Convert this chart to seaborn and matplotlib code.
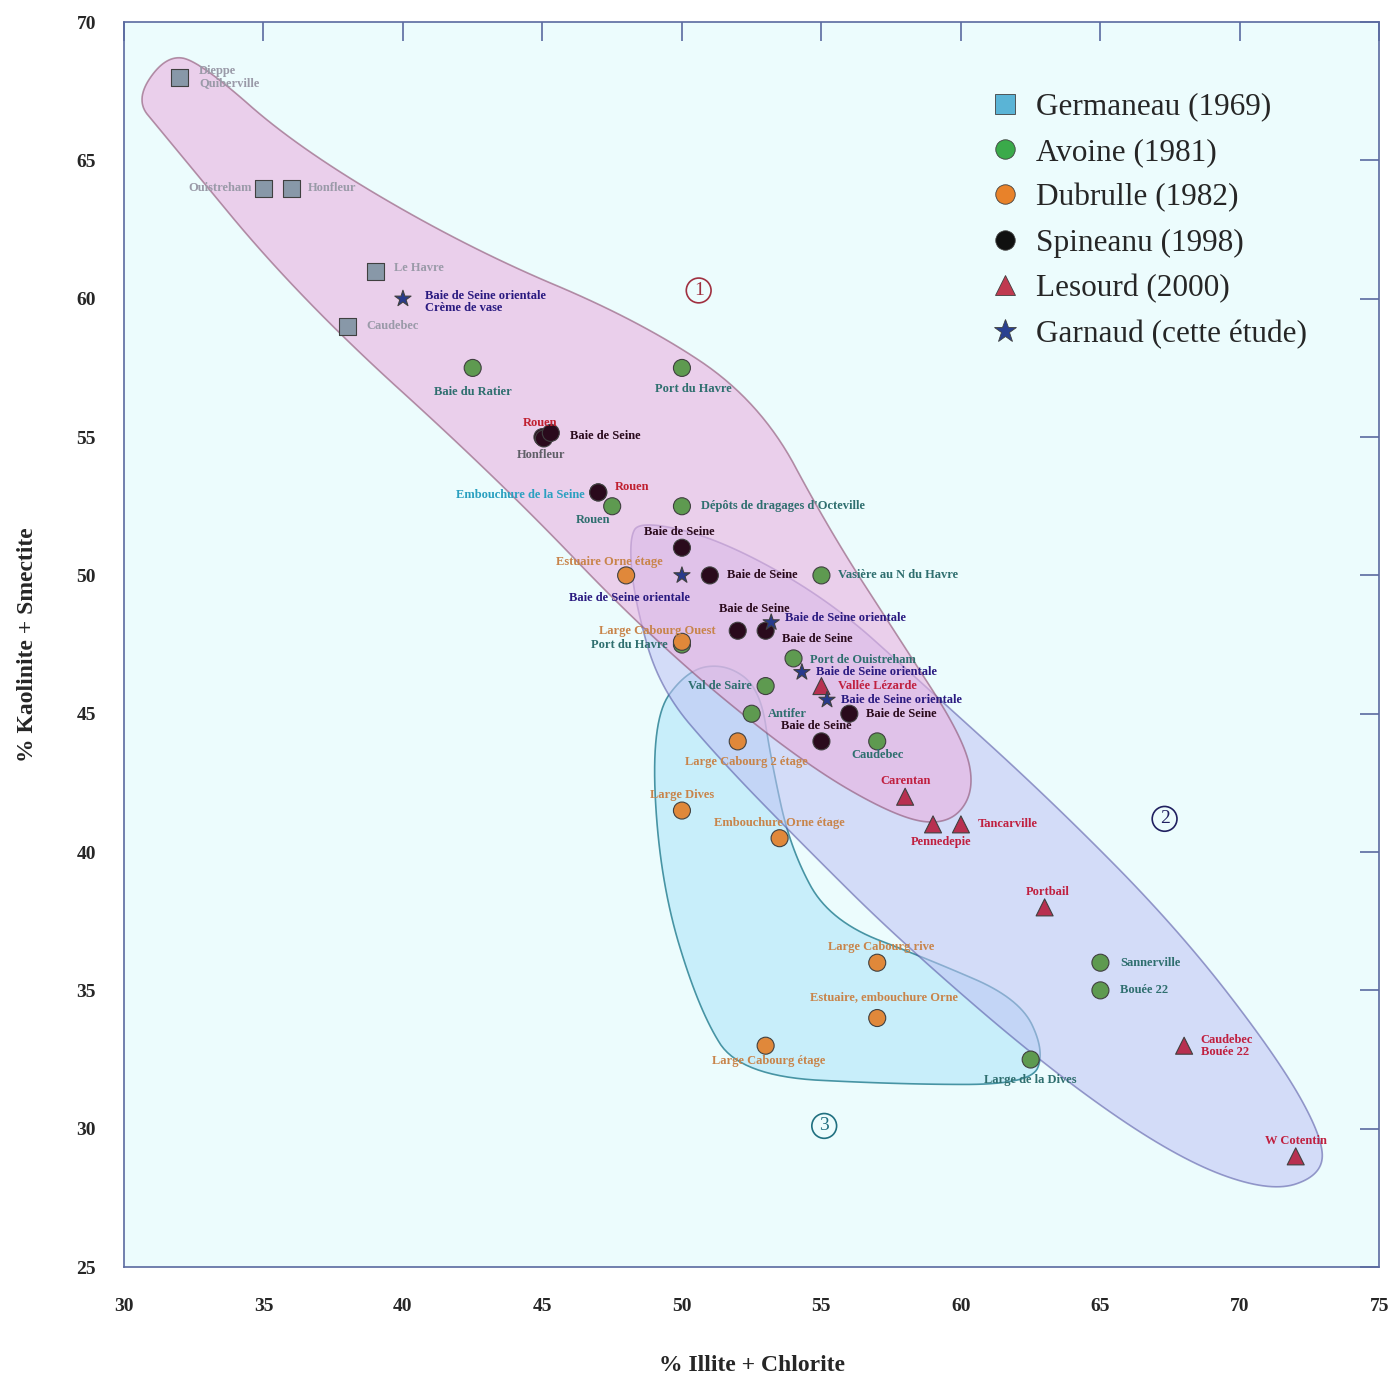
import numpy as np
import pandas as pd
import seaborn as sns
import matplotlib.pyplot as plt
from matplotlib.patches import Polygon
from matplotlib.lines import Line2D

# --- data -----------------------------------------------------------------
germ_x = [32, 35, 36, 39, 38]
germ_y = [68, 64, 64, 61, 59]
germ_lab = ['Dieppe\nQuiberville', 'Ouistreham', 'Honfleur', 'Le Havre', 'Caudebec']

avo_x = [42.5, 50, 47, 47.5, 50, 55, 50, 54, 53, 52.5, 57, 65, 65, 62.5]
avo_y = [57.5, 57.5, 53, 52.5, 52.5, 50, 47.5, 47, 46, 45, 44, 36, 35, 32.5]
avo_lab = ['Baie du Ratier', 'Port du Havre', 'Embouchure de la Seine', 'Rouen',
           "Dépôts de dragages d'Octeville", 'Vasière au N du Havre', 'Port du Havre',
           'Port de Ouistreham', 'Val de Saire', 'Antifer', 'Caudebec', 'Sannerville',
           'Bouée 22', 'Large de la Dives']

dub_x = [48, 50, 52, 50, 53.5, 57, 57, 53]
dub_y = [50, 47.6, 44, 41.5, 40.5, 36, 34, 33]
dub_lab = ['Estuaire Orne étage', 'Large Cabourg Ouest', 'Large Cabourg 2 étage', 'Large Dives',
           'Embouchure Orne étage', 'Large Cabourg rive', 'Estuaire, embouchure Orne',
           'Large Cabourg étage']

spi_x = [45, 45.05, 45.3, 47, 50, 51, 52, 53, 56, 55]
spi_y = [55, 54.95, 55.15, 53, 51, 50, 48, 48, 45, 44]
spi_lab = ['Rouen', 'Honfleur', 'Baie de Seine', 'Rouen', 'Baie de Seine', 'Baie de Seine',
           'Baie de Seine', 'Baie de Seine', 'Baie de Seine', 'Baie de Seine']

les_x = [55, 58, 59, 60, 63, 68, 72]
les_y = [46, 42, 41, 41, 38, 33, 29]
les_lab = ['Vallée Lézarde', 'Carentan', 'Pennedepie', 'Tancarville', 'Portbail',
           'Caudebec\nBouée 22', 'W Cotentin']

gar_x = [40, 50, 53.2, 54.3, 55.2]
gar_y = [60, 50, 48.3, 46.5, 45.5]
gar_lab = ['Baie de Seine orientale\nCrème de vase', 'Baie de Seine orientale',
           'Baie de Seine orientale', 'Baie de Seine orientale', 'Baie de Seine orientale']

sources = ['Germaneau (1969)', 'Avoine (1981)', 'Dubrulle (1982)',
           'Spineanu (1998)', 'Lesourd (2000)', 'Garnaud (cette étude)']

# envelope outlines (data units)
env1_x = [30.4, 31.5, 32.7, 36.3, 42.4, 48.5, 52.8, 55.3, 57.8, 60.1, 60.5, 59.6, 57.8, 54.2, 48.9, 43.5, 36.3, 31.3]
env1_y = [67.2, 68.8, 68.6, 65.4, 61.8, 59.2, 56.3, 51.6, 47.7, 44.1, 42.2, 41.0, 41.2, 43.3, 47.7, 53.4, 60.0, 66.1]
env2_x = [48.5, 51.4, 55.3, 58.5, 63.2, 67.8, 71.4, 73.0, 72.9, 71.1, 67.8, 63.2, 57.8, 54.2, 51.4, 49.2, 48.3, 48.1]
env2_y = [52.0, 51.3, 49.1, 46.2, 41.9, 37.2, 32.5, 29.6, 28.3, 27.7, 28.9, 32.1, 36.8, 40.4, 43.3, 45.9, 49.1, 51.3]
env3_x = [48.9, 49.2, 50.6, 52.1, 57.8, 62.5, 63.0, 62.1, 58.9, 55.3, 53.9, 53.2, 52.8, 51.6, 50.2]
env3_y = [44.8, 39.0, 34.3, 31.9, 31.6, 31.6, 32.8, 34.7, 36.1, 37.5, 40.1, 43.3, 45.9, 46.8, 46.6]

# --- styles ---------------------------------------------------------------
marker_map = dict(zip(sources, ['s', 'o', 'o', 'o', '^', '*']))
plot_pal = dict(zip(sources, ['#8898a8', '#5e9a50', '#e0883a', '#2a0a1c', '#b83050', '#283a8c']))
leg_pal = dict(zip(sources, ['#5ab4d6', '#3aaa4a', '#e8822a', '#101010', '#c03a50', '#2a4090']))
lab_col = dict(zip(sources, ['#9a9aa8', '#2f6f6f', '#c8844a', '#2a0a1c', '#c02040', '#2a1a80']))
col_override = {('Avoine (1981)', 2): '#2aa0c0', ('Spineanu (1998)', 0): '#c02030',
                ('Spineanu (1998)', 1): '#606068', ('Spineanu (1998)', 3): '#c02030'}

# label offsets in points (dx, dy, ha)
offs = {
    'Germaneau (1969)': [(14, 0, 'left'), (-8, 0, 'right'), (12, 0, 'left'), (14, 2, 'left'), (14, 0, 'left')],
    'Avoine (1981)': [(0, -17, 'center'), (8, -15, 'center'), (-10, -2, 'right'), (-14, -10, 'center'),
                      (14, 0, 'left'), (12, 0, 'left'), (-10, 0, 'right'), (12, -1, 'left'),
                      (-10, 0, 'right'), (12, 0, 'left'), (0, -10, 'center'), (14, 0, 'left'),
                      (14, 0, 'left'), (0, -15, 'center')],
    'Dubrulle (1982)': [(-12, 10, 'center'), (-18, 8, 'center'), (6, -15, 'center'), (0, 11, 'center'),
                        (0, 11, 'center'), (3, 11, 'center'), (5, 15, 'center'), (2, -11, 'center')],
    'Spineanu (1998)': [(-2, 10, 'center'), (-2, -12, 'center'), (14, -2, 'left'), (12, 4, 'left'),
                        (-2, 11, 'center'), (12, 0, 'left'), (12, 16, 'center'), (12, -6, 'left'),
                        (12, 0, 'left'), (-4, 11, 'center')],
    'Lesourd (2000)': [(12, 0, 'left'), (0, 11, 'center'), (6, -13, 'center'), (12, 0, 'left'),
                       (2, 11, 'center'), (12, 0, 'left'), (0, 11, 'center')],
    'Garnaud (cette étude)': [(16, -2, 'left'), (-38, -16, 'center'), (10, 3, 'left'), (10, 0, 'left'), (10, 0, 'left')],
}

frames = []
for src, xs, ys, labs in zip(sources,
                             [germ_x, avo_x, dub_x, spi_x, les_x, gar_x],
                             [germ_y, avo_y, dub_y, spi_y, les_y, gar_y],
                             [germ_lab, avo_lab, dub_lab, spi_lab, les_lab, gar_lab]):
    frames.append(pd.DataFrame({'illite': xs, 'kaolinite': ys, 'label': labs, 'source': src}))
df = pd.concat(frames, ignore_index=True)


def chaikin(xs, ys, n=4):
    pts = np.column_stack([xs, ys])
    for _ in range(n):
        nxt = np.roll(pts, -1, axis=0)
        q = 0.75 * pts + 0.25 * nxt
        r = 0.25 * pts + 0.75 * nxt
        pts = np.empty((2 * len(q), 2))
        pts[0::2] = q
        pts[1::2] = r
    return pts


# --- figure ---------------------------------------------------------------
sns.set_style('white')
plt.rcParams['font.family'] = ['Liberation Serif', 'DejaVu Serif']

fig, ax = plt.subplots(figsize=(13.99, 13.82), dpi=100)
plt.subplots_adjust(left=0.0886, right=0.986, top=0.984, bottom=0.0832)
ax.set_facecolor('#ecfcfd')

ax.add_patch(Polygon(chaikin(env3_x, env3_y), closed=True, facecolor='#c6eefa', edgecolor='#3f8f9f',
                     lw=1.2, alpha=0.95, zorder=1))
ax.add_patch(Polygon(chaikin(env2_x, env2_y), closed=True, facecolor='#c0c2f4', edgecolor='#5050a0',
                     lw=1.2, alpha=0.55, zorder=1.1))
ax.add_patch(Polygon(chaikin(env1_x, env1_y), closed=True, facecolor='#eab2e0', edgecolor='#8a5070',
                     lw=1.2, alpha=0.6, zorder=1.2))

sns.scatterplot(data=df, x='illite', y='kaolinite', hue='source', style='source',
                palette=plot_pal, markers=marker_map, s=150, edgecolor='#404040',
                linewidth=0.8, legend=False, ax=ax, zorder=3)

for src in sources:
    sub = df[df['source'] == src].reset_index(drop=True)
    for i, row in sub.iterrows():
        dx, dy, ha = offs[src][i]
        ax.annotate(row['label'], (row['illite'], row['kaolinite']), xytext=(dx, dy),
                    textcoords='offset points', ha=ha, va='center', fontsize=9,
                    fontweight='bold', color=col_override.get((src, i), lab_col[src]),
                    zorder=4, linespacing=1.0)

# zone numbers
for txt, xx, yy, col in [('1', 50.6, 60.3, '#a03040'), ('2', 67.3, 41.2, '#202060'),
                         ('3', 55.1, 30.1, '#207080')]:
    ax.text(xx, yy, txt, ha='center', va='center', fontsize=14, color=col,
            bbox=dict(boxstyle='circle,pad=0.2', fc='none', ec=col, lw=1.2), zorder=4)

ax.set_xlim(30, 75)
ax.set_ylim(25, 70)
ax.set_xticks(np.arange(30, 76, 5))
ax.set_yticks(np.arange(25, 71, 5))
ax.tick_params(direction='in', length=14, width=1.2, color='#5a6aa0', top=True, right=True,
               labelsize=14)
ax.tick_params(axis='x', pad=22)
ax.tick_params(axis='y', pad=20)
for lab in ax.get_xticklabels() + ax.get_yticklabels():
    lab.set_fontweight('bold')
for sp in ax.spines.values():
    sp.set_color('#5a6aa0')
    sp.set_linewidth(1.2)

ax.set_xlabel('% Illite + Chlorite', fontsize=17, fontweight='bold', labelpad=29)
ax.set_ylabel('% Kaolinite + Smectite', fontsize=17, fontweight='bold', labelpad=28)

handles = [Line2D([], [], ls='none', marker=marker_map[s], markersize=17 if s.startswith('Garnaud') else 14,
                  markerfacecolor=leg_pal[s], markeredgecolor='#404040', markeredgewidth=0.6)
           for s in sources]
ax.legend(handles, sources, loc='upper left', bbox_to_anchor=(0.667, 0.966), frameon=False,
          fontsize=22.5, handletextpad=0.5, labelspacing=0.52, handlelength=1.0)

plt.savefig('out.png', dpi=100)
